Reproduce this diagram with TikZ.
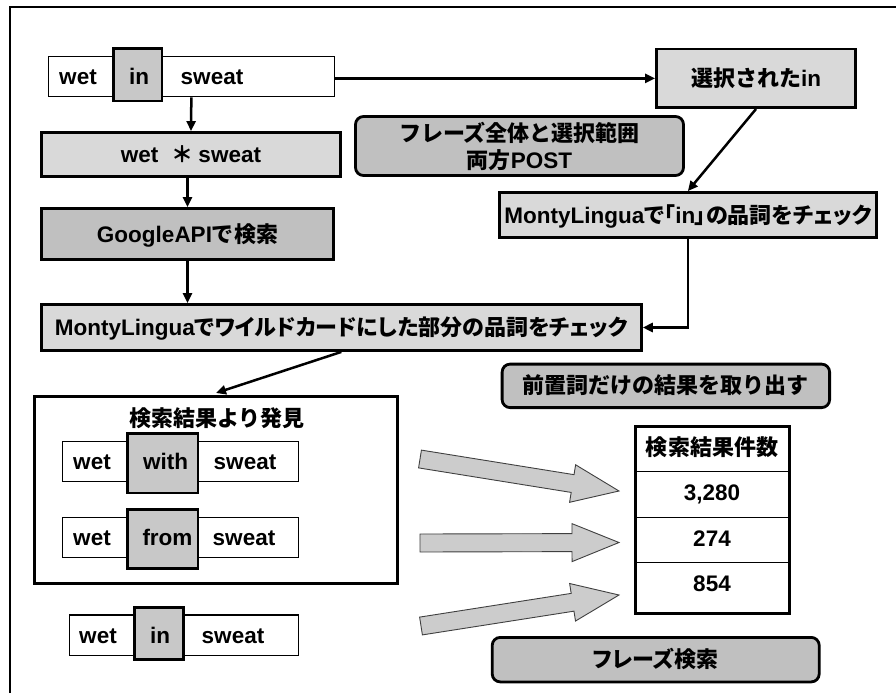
\documentclass[tikz,border=0pt]{standalone}
\usepackage{fontspec}
\setmainfont{Liberation Sans}
\newfontfamily\jp{Noto Sans CJK JP}[Scale=0.978]
\newfontfamily\jpp{Noto Sans CJK JP}[Scale=0.978,RawFeature=+palt]
\usetikzlibrary{arrows.meta,calc}
\definecolor{lightfill}{RGB}{217,217,217}
\definecolor{darkfill}{RGB}{192,192,192}
\definecolor{hifill}{RGB}{200,200,200}
\definecolor{arrowfill}{RGB}{204,204,204}
\begin{document}
\begin{tikzpicture}[x=1pt,y=-1pt,
  tfont/.style={font=\bfseries\fontsize{22.5}{28}\selectfont},
  txt/.style={tfont, inner sep=0pt, text height=16pt, text depth=0pt},
  plainbox/.style={txt, draw, line width=1.3pt, fill=white},
  lightbox/.style={txt, draw, line width=2.8pt, fill=lightfill},
  darkbox/.style={txt, draw, line width=2.8pt, fill=darkfill},
  roundbox/.style={darkbox, rounded corners=8pt},
  hlbox/.style={draw, line width=2.8pt, fill=hifill, inner sep=0pt},
  conn/.style={line width=2.5pt, -{Triangle[length=10pt,width=9pt]}},
  blk/.style={draw=black!75, line width=0.9pt, fill=arrowfill},
]
\useasboundingbox (0,0) rectangle (896,693);
% frame
\draw[line width=2pt] (9.5,693) -- (9.5,7) -- (896,7);

% top row
\node[plainbox, minimum width=286pt, minimum height=40.3pt] (row0) at (191.35,76.5) {};
\node[hlbox, minimum width=48.8pt, minimum height=52.2pt] (hl0) at (137.5,74.8) {};
\node[txt] (w0a) at (78,76.5) {wet};
\node[txt] (w0b) at (139,76.5) {in};
\node[txt] (w0c) at (212,76.5) {sweat};

% left column
\node[lightbox, minimum width=299pt, minimum height=44pt] (wild) at (191,154.5) {wet\hspace{13pt}{\jp ＊}\hspace{5pt}sweat};
\node[darkbox, minimum width=292pt, minimum height=51pt] (google) at (187.5,234) {GoogleAPI{\jp で検索}};
\node[lightbox, minimum width=600pt, minimum height=46pt] (monty) at (341.35,327.5) {MontyLingua{\jpp でワイルドカードにした部分の品詞をチェック}};

% right column
\node[roundbox, minimum width=328pt, minimum height=59pt, text height=, text depth=, align=center, font=\bfseries\fontsize{22.5}{27}\selectfont] (post) at (519.5,146) {{\jp フレーズ全体と選択範囲}\\{\jp 両方}POST};
\node[lightbox, minimum width=199pt, minimum height=58.5pt] (sel) at (756,78.35) {{\jp 選択された}in};
\node[lightbox, minimum width=377.5pt, minimum height=45pt] (montyin) at (687.85,215) {MontyLingua{\jpp で「}in{\jpp 」の品詞をチェック}};

% connectors
\draw[conn] (row0.south) -- (wild.north);
\draw[conn] (google.north |- wild.south) -- (google.north);
\draw[conn] (google.south) -- (google.south |- monty.north);
\draw[conn] (row0.east |- sel.west) -- (sel.west);
\draw[conn] (sel.south) -- (montyin.north);
\draw[conn] (montyin.south) |- (monty.east);
\draw[conn] (monty.south) -- (216,393);

% found box
\node[draw, line width=2.8pt, fill=white, minimum width=363.5pt, minimum height=187.2pt, inner sep=0pt] (found) at (215.85,490) {};
\node[txt] (ftitle) at (217,418) {\jp 検索結果より発見};

\node[plainbox, minimum width=236pt, minimum height=40.3pt] (row1) at (180.35,461.5) {};
\node[hlbox, minimum width=70.5pt, minimum height=59.5pt] (hl1) at (162.65,463.15) {};
\node[txt] (w1a) at (92,461.5) {wet};
\node[txt] (w1b) at (165.7,461.5) {with};
\node[txt] (w1c) at (245,461.5) {sweat};

\node[plainbox, minimum width=236pt, minimum height=40.3pt] (row2) at (180.35,537.5) {};
\node[hlbox, minimum width=70.5pt, minimum height=59.5pt] (hl2) at (162.65,538.85) {};
\node[txt] (w2a) at (92,537.5) {wet};
\node[txt] (w2b) at (167.5,537.5) {from};
\node[txt] (w2c) at (244,537.5) {sweat};

\node[plainbox, minimum width=228.7pt, minimum height=40.4pt] (row3) at (184,635.15) {};
\node[hlbox, minimum width=49.5pt, minimum height=52.5pt] (hl3) at (158.85,633.35) {};
\node[txt] (w3a) at (98,635.15) {wet};
\node[txt] (w3b) at (160,635.15) {in};
\node[txt] (w3c) at (233,635.15) {sweat};

% right lower
\node[roundbox, minimum width=327.5pt, minimum height=43.5pt] (extract) at (665.85,385.85) {\jp 前置詞だけの結果を取り出す};
\node[draw, line width=2.8pt, fill=white, minimum width=153.6pt, minimum height=187.2pt, inner sep=0pt] (tbl) at (712.5,520) {};
\draw[line width=1pt] (tbl.west |- 0,471) -- (tbl.east |- 0,471);
\draw[line width=1pt] (tbl.west |- 0,517.7) -- (tbl.east |- 0,517.7);
\draw[line width=1pt] (tbl.west |- 0,562.3) -- (tbl.east |- 0,562.3);
\node[txt] (th) at (712,447) {\jp 検索結果件数};
\node[txt] (v1) at (712,492) {3,280};
\node[txt] (v2) at (712,538) {274};
\node[txt] (v3) at (712,583.5) {854};
\node[roundbox, minimum width=327pt, minimum height=44.5pt] (phrase) at (655.7,659.65) {\jpp フレーズ検索};

% block arrows
\coordinate (a1s) at (420,459);   \coordinate (a1e) at (619,491);
\coordinate (a2s) at (420,543);   \coordinate (a2e) at (619,542.5);
\coordinate (a3s) at (421,626);   \coordinate (a3e) at (619,595);
\foreach \i in {1,2,3}{
  \coordinate (h\i) at ($(a\i e)!47pt!(a\i s)$);
  \draw[blk] ($(a\i s)!9pt!90:(a\i e)$) -- ($(h\i)!9pt!-90:(a\i s)$) -- ($(h\i)!19pt!-90:(a\i s)$)
    -- (a\i e) -- ($(h\i)!19pt!90:(a\i s)$) -- ($(h\i)!9pt!90:(a\i s)$) -- ($(a\i s)!9pt!-90:(a\i e)$) -- cycle;
}
\end{tikzpicture}
\end{document}
